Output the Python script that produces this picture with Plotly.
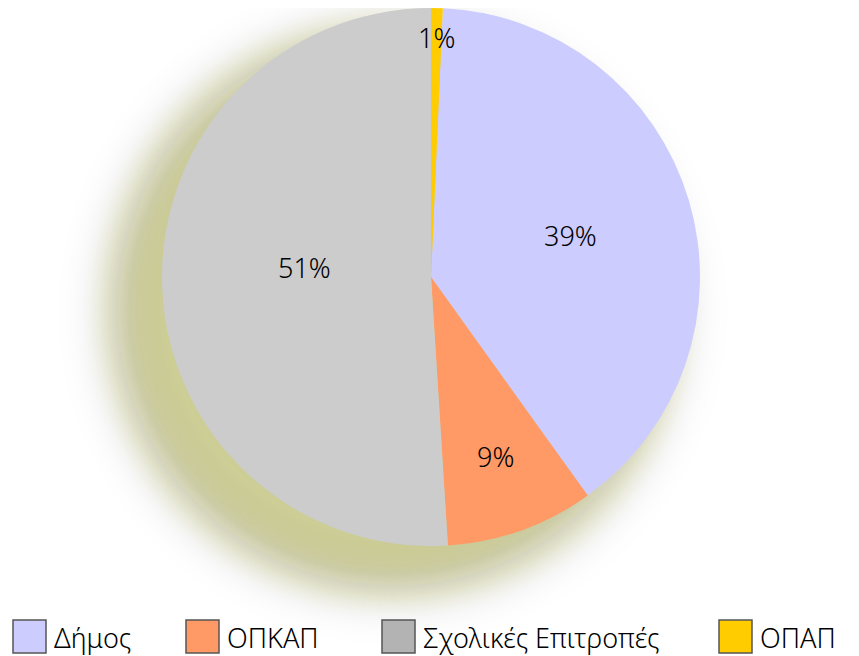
import math
import plotly.graph_objects as go

# ---- data ----
labels = ["Δήμος", "ΟΠΚΑΠ", "Σχολικές Επιτροπές", "ΟΠΑΠ"]
values = [39.4, 8.9, 51.0, 0.7]
slice_colors = ["#CCCCFF", "#FF9966", "#CCCCCC", "#FFCC00"]
legend_colors = ["#CCCCFF", "#FF9966", "#B3B3B3", "#FFCC00"]

# page is rendered with an 8px body margin -> shrink figure and shift coords
OFF = 8
W, H = 859 - OFF, 656 - OFF
FONT = "Noto Sans"
WEIGHT = 300

def px_x(x):
    return (x - OFF) / W

def px_y(y):
    return 1 - (y - OFF) / H

# pie geometry (page pixels)
cx, cy, r = 431, 277, 269
total = sum(values)
rot = values[-1] / total * 360  # last slice ends at 12 o'clock

fig = go.Figure()
fig.add_trace(go.Pie(
    labels=labels,
    values=values,
    sort=False,
    direction="clockwise",
    rotation=rot,
    marker=dict(colors=slice_colors, line=dict(width=0)),
    textinfo="none",
    domain=dict(x=[px_x(cx - r), px_x(cx + r)], y=[px_y(cy + r), px_y(cy - r)]),
    showlegend=False,
    hoverinfo="label+percent",
))

# ---- blurred shadow approximated by stacked translucent circles ----
scx, scy, sR, sigma = 393, 310, 278, 25
shadow_color = "rgb(206,206,150)"
N = 80
shapes = []

def offset_for_level(level):
    lo, hi = -8 * sigma, 8 * sigma
    for _ in range(60):
        mid = (lo + hi) / 2
        if 0.5 * math.erfc(mid / (sigma * math.sqrt(2))) > level:
            lo = mid
        else:
            hi = mid
    return (lo + hi) / 2

prev = 0.0
for k in range(1, N + 1):
    level = k / N
    op = (level - prev) / (1 - prev)
    rk = sR + offset_for_level(min(level, 0.995))
    prev = level
    shapes.append(dict(
        type="circle", xref="paper", yref="paper", layer="below",
        x0=px_x(scx - rk), x1=px_x(scx + rk),
        y0=px_y(scy + rk), y1=px_y(scy - rk),
        fillcolor=shadow_color, opacity=op, line=dict(width=0),
    ))

annotations = []

# ---- slice labels (percent of each value, placed near slice bisector) ----
label_radius = [0.54, 0.71, 0.473, 0.89]
label_angle_shift = [0, 0, 6.3, 0]
cum = rot
for v, lr, sh in zip(values, label_radius, label_angle_shift):
    ang = math.radians(cum + v / total * 180 + sh)
    cum += v / total * 360
    lx = cx + lr * r * math.sin(ang)
    ly = cy - lr * r * math.cos(ang)
    annotations.append(dict(
        text=f"{round(v / total * 100)}%", xref="paper", yref="paper",
        showarrow=False, x=px_x(lx), y=px_y(ly),
        xanchor="center", yanchor="middle",
        font=dict(family=FONT, size=27, color="#000000", weight=WEIGHT),
    ))

# ---- manual legend (large swatches) ----
swatch_left = [13, 186, 382, 719]
sw = 33
sy0, sy1 = 620, 653
for lab, col, xl in zip(labels, legend_colors, swatch_left):
    shapes.append(dict(
        type="rect", xref="paper", yref="paper", layer="above",
        x0=px_x(xl), x1=px_x(xl + sw), y0=px_y(sy1), y1=px_y(sy0),
        fillcolor=col, line=dict(color="#555555", width=1.5),
    ))
    annotations.append(dict(
        text=lab, xref="paper", yref="paper", showarrow=False,
        x=px_x(xl + sw + 6), y=px_y((sy0 + sy1) / 2 + 1),
        xanchor="left", yanchor="middle",
        font=dict(family=FONT, size=27, color="#000000", weight=WEIGHT),
    ))

fig.update_layout(
    width=W, height=H,
    margin=dict(l=0, r=0, t=0, b=0),
    paper_bgcolor="white", plot_bgcolor="white",
    shapes=shapes,
    annotations=annotations,
    showlegend=False,
)

fig.write_html("out.html")
